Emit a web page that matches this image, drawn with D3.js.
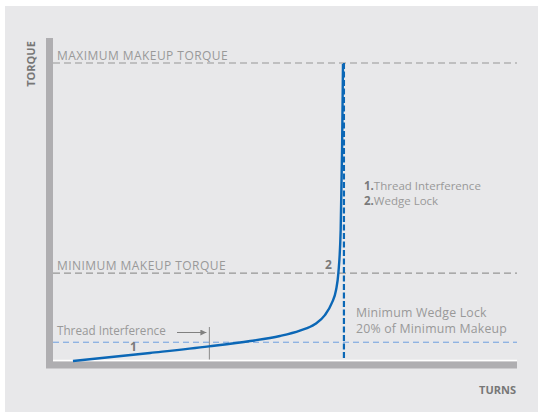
<!DOCTYPE html>
<html>
<head>
<meta charset="utf-8">
<script src="https://cdn.jsdelivr.net/npm/d3@7"></script>
<style>
  body { margin: 0; background: #fff; }
  svg text { font-family: "Open Sans", "Noto Sans", sans-serif; }
</style>
</head>
<body>
<svg id="chart" width="538" height="412"></svg>
<script>
// Makeup curve: turns vs torque (percent of maximum makeup torque)
const turns = [4.3, 20.9, 33.6, 42.5, 48.9, 53.2, 56.5, 58.6, 60.1, 61.0, 61.5, 62.0, 62.3, 62.5];
const torque = [0, 2.7, 4.9, 6.7, 8.4, 10.2, 12.4, 15.4, 19.5, 23.8, 29.5, 44.0, 70.8, 99.7];

// Reference levels
const maxTorque = 100;
const minTorque = 29.5;
const wedgeLockLevel = 6.3;   // 20% of minimum makeup
const interferenceTurns = 33.7;
const wedgeLockTurns = 62.7;

const levelLabels = ['MAXIMUM MAKEUP TORQUE', 'MINIMUM MAKEUP TORQUE'];
const legendItems = [['1.', 'Thread Interference'], ['2.', 'Wedge Lock']];
const noteLines = ['Minimum Wedge Lock', '20% of Minimum Makeup'];

const svg = d3.select('#chart');

// panel
svg.append('rect').attr('x', 5).attr('y', 6).attr('width', 533).attr('height', 406).attr('fill', '#e8e8ea');

const x = d3.scaleLinear().domain([0, 100]).range([53, 517]);
const y = d3.scaleLinear().domain([0, 100]).range([361, 63]);

// axes as thick bars
svg.append('line').attr('x1', x(0)).attr('x2', x(100)).attr('y1', 360.5).attr('y2', 360.5)
  .attr('stroke', '#fff').attr('stroke-width', 1.5);
svg.append('rect').attr('x', 46).attr('y', 38).attr('width', 7).attr('height', 330).attr('fill', '#afaeb1');
svg.append('rect').attr('x', 46).attr('y', 361.5).attr('width', 471).attr('height', 7).attr('fill', '#afaeb1');

// horizontal torque levels
const levels = [maxTorque, minTorque];
svg.selectAll('.level').data(levels).join('line')
  .attr('class', 'level')
  .attr('x1', x(0)).attr('x2', x(100))
  .attr('y1', (d) => y(d)).attr('y2', (d) => y(d))
  .attr('stroke', '#959595').attr('stroke-width', 1.1).attr('stroke-dasharray', '7,4');

svg.selectAll('.level-label').data(levels).join('text')
  .attr('class', 'level-label')
  .attr('x', 57).attr('y', (d) => y(d) - 3)
  .attr('font-size', 12).attr('letter-spacing', 0.45).attr('fill', '#999')
  .text((d, i) => levelLabels[i]);

// 20% wedge lock level
svg.append('line')
  .attr('x1', x(0)).attr('x2', x(100))
  .attr('y1', y(wedgeLockLevel)).attr('y2', y(wedgeLockLevel))
  .attr('stroke', '#6c9ee0').attr('stroke-width', 1).attr('stroke-dasharray', '6,4');

// interference marker
svg.append('line')
  .attr('x1', x(interferenceTurns)).attr('x2', x(interferenceTurns))
  .attr('y1', 327).attr('y2', 359.5)
  .attr('stroke', '#8a8a8a').attr('stroke-width', 1);

svg.append('defs').append('marker')
  .attr('id', 'arrow').attr('viewBox', '0 0 10 10')
  .attr('refX', 10).attr('refY', 5)
  .attr('markerWidth', 8).attr('markerHeight', 6)
  .attr('markerUnits', 'userSpaceOnUse')
  .attr('orient', 'auto')
  .append('path').attr('d', 'M0,0L10,5L0,10Z').attr('fill', '#808080');

svg.append('line')
  .attr('x1', 177).attr('x2', x(interferenceTurns) - 3)
  .attr('y1', 332.5).attr('y2', 332.5)
  .attr('stroke', '#808080').attr('stroke-width', 1)
  .attr('marker-end', 'url(#arrow)');

svg.append('text').attr('x', 57).attr('y', 334.5)
  .attr('font-size', 11.7).attr('fill', '#999').text('Thread Interference');

// curve
const line = d3.line()
  .x((d) => x(d[0]))
  .y((d) => y(d[1]))
  .curve(d3.curveMonotoneX);

svg.append('path')
  .datum(d3.zip(turns, torque))
  .attr('d', line)
  .attr('fill', 'none').attr('stroke', '#0b67b6').attr('stroke-width', 2.4);

// wedge lock vertical
svg.append('line')
  .attr('x1', x(wedgeLockTurns)).attr('x2', x(wedgeLockTurns))
  .attr('y1', y(maxTorque)).attr('y2', 360)
  .attr('stroke', '#0b67b6').attr('stroke-width', 2.2).attr('stroke-dasharray', '6,2.5');

// point numbers
svg.append('text').attr('x', 130).attr('y', 350.5)
  .attr('font-size', 12).attr('font-weight', 700).attr('fill', '#7a7a7a').text('1');
svg.append('text').attr('x', 325).attr('y', 269)
  .attr('font-size', 12).attr('font-weight', 700).attr('fill', '#7a7a7a').text('2');

// legend
const legend = svg.selectAll('.legend').data(legendItems).join('text')
  .attr('class', 'legend')
  .attr('x', 364).attr('y', (d, i) => 189.5 + i * 15)
  .attr('font-size', 11.5).attr('fill', '#999');
legend.append('tspan').attr('font-weight', 700).attr('fill', '#7a7a7a').text((d) => d[0]);
legend.append('tspan').text((d) => d[1]);

// note
svg.selectAll('.note').data(noteLines).join('text')
  .attr('class', 'note')
  .attr('x', 356).attr('y', (d, i) => 317 + i * 15.5)
  .attr('font-size', 12.3).attr('letter-spacing', 0.2).attr('fill', '#999')
  .text((d) => d);

// axis titles
svg.append('text')
  .attr('transform', 'translate(35,64) rotate(-90)')
  .attr('text-anchor', 'middle')
  .attr('font-size', 11).attr('font-weight', 700).attr('fill', '#777')
  .text('TORQUE');
svg.append('text')
  .attr('x', 516).attr('y', 394)
  .attr('text-anchor', 'end')
  .attr('font-size', 11).attr('font-weight', 700).attr('fill', '#777')
  .text('TURNS');
</script>
</body>
</html>
